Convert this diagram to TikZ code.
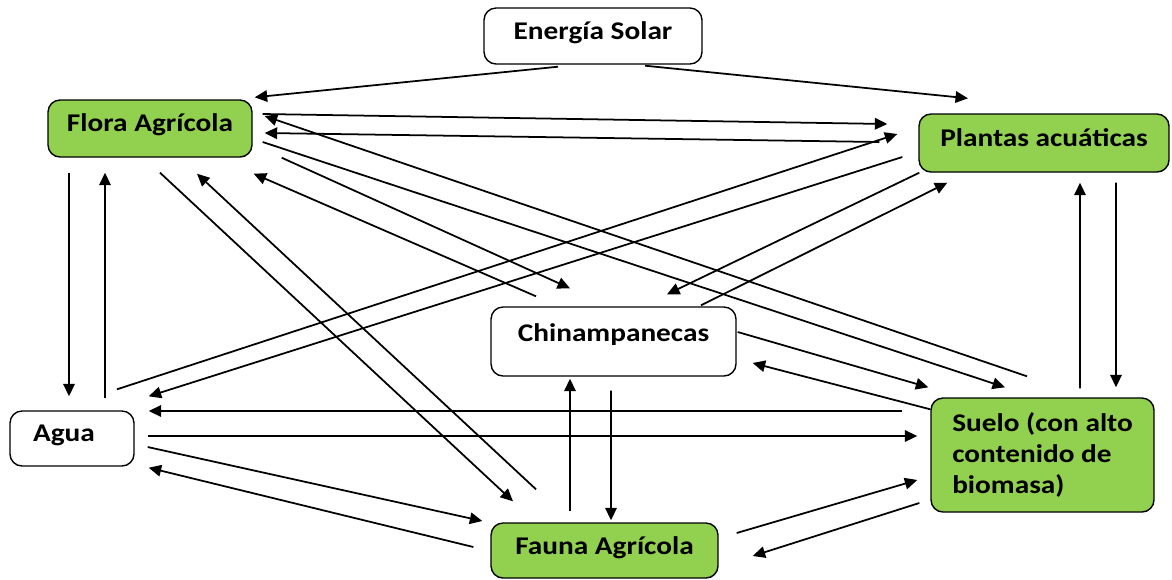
\documentclass[tikz,border=0pt]{standalone}
\usepackage{fontspec}
\setmainfont{Carlito}[FakeStretch=1.15]
\usepackage{tikz}
\usetikzlibrary{positioning,calc,arrows.meta}

\definecolor{verde}{HTML}{92D050}

\begin{document}
\begin{tikzpicture}[x=0.02cm, y=-0.02cm,
  caja/.style={draw, line width=0.8pt, rounded corners=0.24cm, fill=white,
    font=\fontsize{14.5}{17.6}\selectfont\bfseries, text depth=0.22cm},
  cajaverde/.style={caja, fill=verde},
  flecha/.style={line width=1pt, -{Triangle[length=0.25cm, width=0.23cm]}}]

\useasboundingbox (0,0) rectangle (1172,579);

\node[caja, minimum width=4.36cm, minimum height=1.12cm] (sol) at (593,36) {Energía Solar};
\node[cajaverde, minimum width=4.08cm, minimum height=1.14cm] (flora) at (150,128.5) {Flora Agrícola};
\node[cajaverde, minimum width=5cm, minimum height=1.16cm] (plantas) at (1044,143) {Plantas acuáticas};
\node[caja, minimum width=4.9cm, minimum height=1.38cm, text depth=0.36cm] (chin) at (613.5,341.5) {Chinampanecas};
\node[caja, minimum width=2.48cm, minimum height=1.1cm, inner xsep=0.46cm, text width=1.56cm, align=left] (agua) at (72,438.5) {Agua};
\node[cajaverde, minimum width=4.46cm, minimum height=2.28cm, align=left, text depth=] (suelo) at (1042.5,455) {Suelo (con alto\\ contenido de\\ biomasa)};
\node[cajaverde, minimum width=4.54cm, minimum height=1.1cm, text depth=0.18cm] (fauna) at (604.5,550.5) {Fauna Agrícola};

% energia solar
\draw[flecha] ($(sol.south)+(-35,2)$) -- ($(flora.north east)+(2,-2)$);
\draw[flecha] ($(sol.south)+(52,1)$) -- ($(plantas.north)+(-76,-15)$);

% flora agricola
\draw[flecha] ($(flora.east)+(10,-14.5)$) -- ($(plantas.west)+(-31,-19)$);
\draw[flecha] ($(plantas.west)+(-39,-1)$) -- ($(flora.east)+(12,4.5)$);
\draw[flecha] ($(suelo.north)+(-15.5,-21)$) -- ($(flora.east)+(12,-12.5)$);
\draw[flecha] ($(flora.east)+(10,13.5)$) -- ($(suelo.north)+(-37.5,-10)$);
\draw[flecha] ($(flora.south east)+(29,0)$) -- ($(chin.north)+(-43.5,-18)$);
\draw[flecha] ($(chin.north)+(-77.5,-10)$) -- ($(flora.south east)+(1,16)$);
\draw[flecha] ($(flora.south)+(10,15)$) -- ($(fauna.north)+(-91.5,-21)$);
\draw[flecha] ($(fauna.north)+(-68.5,-33)$) -- ($(flora.south)+(47,16)$);
\draw[flecha] ($(flora.south)+(-81,15)$) -- ($(agua.north)+(-3,-14)$);
\draw[flecha] ($(agua.north)+(33,-12)$) -- ($(flora.south)+(-45,15)$);

% plantas acuaticas
\draw[flecha] ($(agua.north)+(45,-21)$) -- ($(plantas.west)+(-21,-9)$);
\draw[flecha] ($(plantas.west)+(-16,14)$) -- ($(agua.north east)+(14,-14)$);
\draw[flecha] ($(plantas.south west)+(1,0)$) -- ($(chin.north)+(53.5,-12)$);
\draw[flecha] ($(chin.north)+(87.5,-1)$) -- ($(plantas.south west)+(29,10)$);
\draw[flecha] ($(plantas.south)+(72,10)$) -- ($(suelo.north)+(73.5,-10)$);
\draw[flecha] ($(suelo.north)+(37.5,-9)$) -- ($(plantas.south)+(36,10)$);

% chinampanecas y suelo
\draw[flecha] ($(chin.east)+(1,-9.5)$) -- ($(suelo.north west)+(-2,-10)$);
\draw[flecha] ($(suelo.north west)+(0,12)$) -- ($(chin.east)+(16,21.5)$);
\draw[flecha] ($(suelo.west)+(-28,-44)$) -- ($(agua.east)+(14,-27.5)$);
\draw[flecha] ($(agua.east)+(13,-2.5)$) -- ($(suelo.west)+(-13,-19)$);

% fauna agricola
\draw[flecha] ($(agua.east)+(13,8.5)$) -- ($(fauna.west)+(-8,-29.5)$);
\draw[flecha] ($(fauna.west)+(-17,-3.5)$) -- ($(agua.south east)+(14,1)$);
\draw[flecha] ($(fauna.north)+(-34.5,-11)$) -- ($(chin.south)+(-43.5,2)$);
\draw[flecha] ($(chin.south)+(-2.5,14)$) -- ($(fauna.north)+(6.5,-2)$);
\draw[flecha] ($(fauna.east)+(18,-17.5)$) -- ($(suelo.west)+(-13,25)$);
\draw[flecha] ($(suelo.west)+(-11,48)$) -- ($(fauna.east)+(34,5.5)$);

\end{tikzpicture}
\end{document}
